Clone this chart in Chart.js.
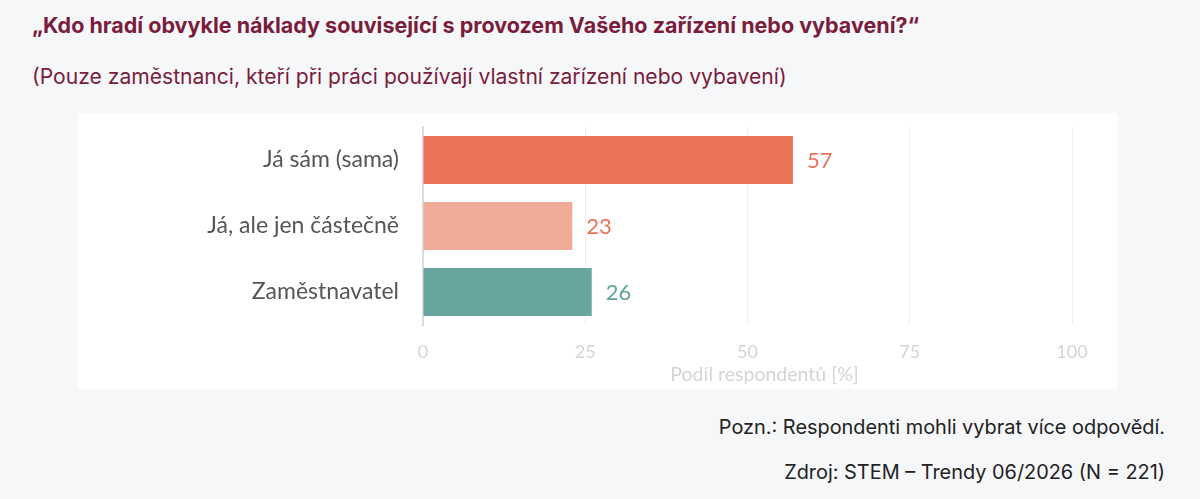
<!DOCTYPE html>
<html>
<head>
<meta charset="utf-8">
<script src="https://cdn.jsdelivr.net/npm/chart.js@4"></script>
<style>
  html,body{margin:0;padding:0;background:#f6f7f9;width:1200px;height:499px;overflow:hidden;font-family:Inter,"Noto Sans",sans-serif;}
  #title{position:absolute;left:32px;top:12px;font-size:21.5px;font-weight:700;color:#7a1c3c;white-space:nowrap;}
  #subtitle{position:absolute;left:32px;top:64px;font-size:21.1px;font-weight:400;color:#7a1c3c;white-space:nowrap;}
  #panel{position:absolute;left:78px;top:113px;width:1039px;height:276px;background:#fff;}
  #panel canvas{display:block;}
  #note{position:absolute;right:35px;top:415px;font-size:19.9px;color:#222;white-space:nowrap;}
  #src{position:absolute;right:35px;top:460px;font-size:19.9px;color:#222;white-space:nowrap;}
</style>
</head>
<body>
<div id="title">„Kdo hradí obvykle náklady související s provozem Vašeho zařízení nebo vybavení?“</div>
<div id="subtitle">(Pouze zaměstnanci, kteří při práci používají vlastní zařízení nebo vybavení)</div>
<div id="panel"><canvas id="c" width="1039" height="276"></canvas></div>
<div id="note">Pozn.: Respondenti mohli vybrat více odpovědí.</div>
<div id="src">Zdroj: STEM – Trendy 06/2026 (N = 221)</div>
<script>
const categories = ["Já sám (sama)", "Já, ale jen částečně", "Zaměstnavatel"];
const values = [57, 23, 26];
const barColors = ["#eb7358", "#f0ab99", "#66a69f"];
const labelColors = ["#e8735a", "#e8735a", "#5fa39b"];
const xTicks = [0, 25, 50, 75, 100];
const xTitle = "Podíl respondentů [%]";

const valueLabels = {
  id: "valueLabels",
  afterDatasetsDraw(chart) {
    const ctx = chart.ctx;
    const meta = chart.getDatasetMeta(0);
    ctx.save();
    ctx.font = "22px Lato, 'Open Sans', sans-serif";
    ctx.textBaseline = "middle";
    ctx.textAlign = "left";
    meta.data.forEach((bar, i) => {
      ctx.fillStyle = labelColors[i];
      ctx.fillText(String(values[i]), bar.x + 14, bar.y + 1);
    });
    ctx.restore();
  }
};

const axisTitle = {
  id: "axisTitle",
  afterDraw(chart) {
    const ctx = chart.ctx;
    const xs = chart.scales.x;
    ctx.save();
    ctx.font = "19.5px Lato, 'Open Sans', sans-serif";
    ctx.fillStyle = "#d4d4d4";
    ctx.textAlign = "center";
    ctx.textBaseline = "middle";
    ctx.fillText(xTitle, (xs.left + xs.right) / 2 + 17, xs.bottom - 14);
    ctx.restore();
  }
};

new Chart(document.getElementById("c"), {
  type: "bar",
  data: {
    labels: categories,
    datasets: [{
      data: values,
      backgroundColor: barColors,
      borderWidth: 0,
      barPercentage: 0.73,
      categoryPercentage: 1.0
    }]
  },
  options: {
    indexAxis: "y",
    responsive: false,
    animation: false,
    devicePixelRatio: 1,
    layout: { padding: { top: 14, right: 45, bottom: 0, left: 0 } },
    plugins: { legend: { display: false }, tooltip: { enabled: false } },
    scales: {
      x: {
        min: 0, max: 100,
        afterBuildTicks(scale) { scale.ticks = xTicks.map(v => ({ value: v })); },
        afterFit(scale) { scale.height = 64; },
        grid: { color: "#f0f0f0", lineWidth: 1, drawTicks: false },
        border: { display: false },
        ticks: { color: "#d4d4d4", font: { family: "Lato, 'Open Sans', sans-serif", size: 18 }, padding: 16 },
        title: { display: false }
      },
      y: {
        afterFit(scale) { scale.width = 345; scale.paddingTop = 0; scale.paddingBottom = 0; },
        grid: { display: false, drawTicks: false },
        border: { display: true, color: "#dcdcdc", width: 2 },
        ticks: { color: "#555", font: { family: "Lato, 'Open Sans', sans-serif", size: 23 }, padding: 24 }
      }
    }
  },
  plugins: [valueLabels, axisTitle]
});
</script>
</body>
</html>
